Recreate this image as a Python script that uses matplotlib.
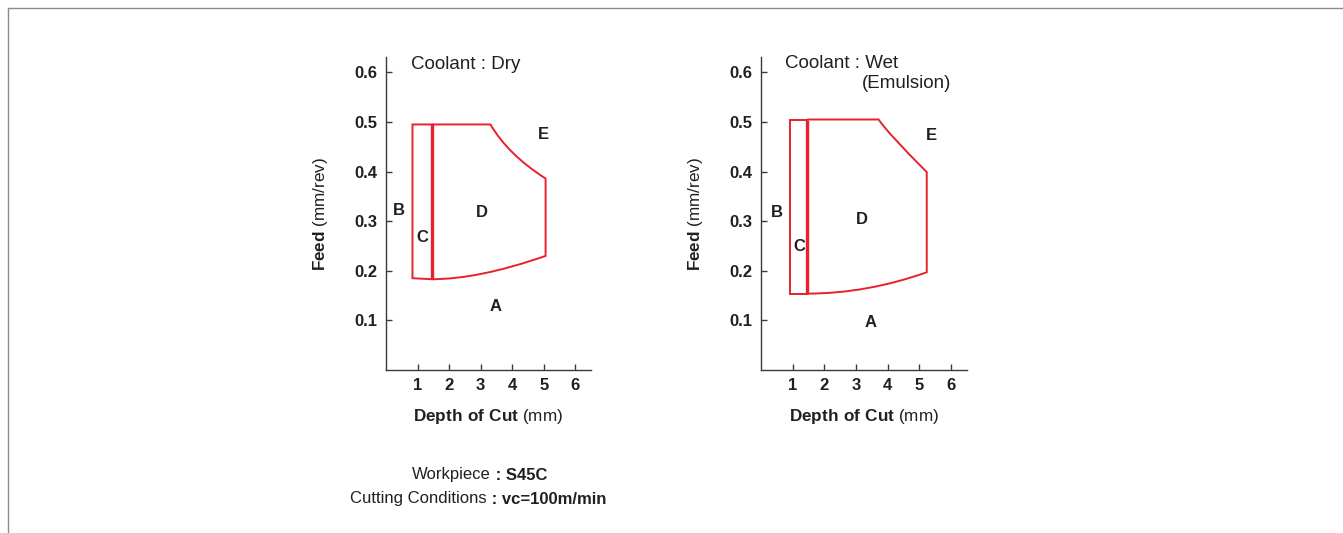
import matplotlib
matplotlib.use("Agg")
import matplotlib.pyplot as plt
from matplotlib.lines import Line2D
from matplotlib.path import Path
from matplotlib.patches import PathPatch

plt.rcParams['font.family'] = ['Liberation Sans', 'DejaVu Sans']
plt.rcParams['mathtext.fontset'] = 'custom'
plt.rcParams['mathtext.rm'] = 'Liberation Sans'
plt.rcParams['mathtext.bf'] = 'Liberation Sans:bold'
plt.rcParams['xtick.direction'] = 'in'
plt.rcParams['ytick.direction'] = 'in'

TXT = '#231f20'
RED = '#e8212b'

x_ticks = [1, 2, 3, 4, 5, 6]
y_ticks = [0.1, 0.2, 0.3, 0.4, 0.5, 0.6]

# ---- Dry ----
dry_title = "Coolant : Dry"
dry_x_left = 0.84
dry_x_div = 1.46
dry_top = 0.495
dry_bot_left = 0.185
dry_bot_div = 0.183
dry_top_end = (3.31, 0.495)
dry_upper_ctrl = (3.875, 0.434)
dry_corner_top = (5.06, 0.386)
dry_corner_bot = (5.06, 0.230)
dry_lower_ctrl = (2.94, 0.183)
dry_labels = ['A', 'B', 'C', 'D', 'E']
dry_label_x = [3.48, 0.42, 1.15, 3.03, 4.98]
dry_label_y = [0.128, 0.322, 0.268, 0.318, 0.475]

# ---- Wet ----
wet_title = "Coolant : Wet"
wet_subtitle = "(Emulsion)"
wet_x_left = 0.90
wet_x_div = 1.46
wet_top = 0.505
wet_bot_left = 0.154
wet_bot_div = 0.154
wet_top_end = (3.71, 0.505)
wet_upper_ctrl = (4.02, 0.476)
wet_corner_top = (5.23, 0.399)
wet_corner_bot = (5.23, 0.197)
wet_lower_ctrl = (3.33, 0.154)
wet_labels = ['A', 'B', 'C', 'D', 'E']
wet_label_x = [3.45, 0.51, 1.21, 3.17, 5.37]
wet_label_y = [0.096, 0.318, 0.249, 0.304, 0.472]

fig = plt.figure(figsize=(13.43, 5.33), dpi=100)
fig.patch.set_facecolor('white')

# frame lines
fig.add_artist(Line2D([8/1343, 1.0], [1-8/533, 1-8/533], transform=fig.transFigure,
                      color='#8c8c8c', lw=1.0))
fig.add_artist(Line2D([8/1343, 8/1343], [0, 1-8/533], transform=fig.transFigure,
                      color='#8c8c8c', lw=1.0))

ax1 = fig.add_axes([386/1343, 163/533, 205/1343, 313/533])
ax2 = fig.add_axes([761/1343, 163/533, 206/1343, 313/533])


def style(ax):
    ax.set_xlim(0, 6.5)
    ax.set_ylim(0, 0.631)
    for s in ['top', 'right']:
        ax.spines[s].set_visible(False)
    for s in ['left', 'bottom']:
        ax.spines[s].set_color('#3a3a3a')
        ax.spines[s].set_linewidth(1.0)
    ax.set_xticks(x_ticks)
    ax.set_xticklabels([str(v) for v in x_ticks])
    ax.set_yticks(y_ticks)
    ax.set_yticklabels([f"{v:.1f}" for v in y_ticks])
    ax.tick_params(direction='in', length=4, width=1.0, color='#3a3a3a',
                   labelsize=12, labelcolor=TXT)
    ax.tick_params(axis='y', pad=6.5)
    ax.tick_params(axis='x', pad=5.5)
    for lab in ax.get_xticklabels() + ax.get_yticklabels():
        lab.set_fontweight('bold')
    ax.set_xlabel(r"$\mathbf{Depth\ of\ Cut}$ (mm)", fontsize=12.3, color=TXT)
    ax.set_ylabel(r"$\mathbf{Feed}$ (mm/rev)", fontsize=12.3, color=TXT)
    ax.xaxis.set_label_coords(0.5, -0.118)
    ax.yaxis.set_label_coords(-0.274, 0.5)
    ax.patch.set_alpha(0)


def draw(ax, xl, xd, top, bl, bd, tend, uctrl, ctop, cbot, lctrl):
    # B/C rectangle part
    ax.plot([xd, xl, xl, xd], [top, top, bl, bd], color=RED, lw=1.4,
            solid_joinstyle='miter')
    # D region outline with curved boundaries
    verts = [(xd, top), tend, uctrl, ctop, cbot, lctrl, (xd, bd)]
    codes = [Path.MOVETO, Path.LINETO, Path.CURVE3, Path.CURVE3,
             Path.LINETO, Path.CURVE3, Path.CURVE3]
    ax.add_patch(PathPatch(Path(verts, codes), fill=False, edgecolor=RED,
                           lw=1.4, joinstyle='miter'))
    # divider
    ax.plot([xd, xd], [bd, top], color=RED, lw=2.4, solid_capstyle='butt')


style(ax1)
style(ax2)

draw(ax1, dry_x_left, dry_x_div, dry_top, dry_bot_left, dry_bot_div,
     dry_top_end, dry_upper_ctrl, dry_corner_top, dry_corner_bot, dry_lower_ctrl)
draw(ax2, wet_x_left, wet_x_div, wet_top, wet_bot_left, wet_bot_div,
     wet_top_end, wet_upper_ctrl, wet_corner_top, wet_corner_bot, wet_lower_ctrl)

for lab, x, y in zip(dry_labels, dry_label_x, dry_label_y):
    ax1.text(x, y, lab, ha='center', va='center', fontsize=12, fontweight='bold', color=TXT)
for lab, x, y in zip(wet_labels, wet_label_x, wet_label_y):
    ax2.text(x, y, lab, ha='center', va='center', fontsize=12, fontweight='bold', color=TXT)

ax1.text(0.79, 0.615, dry_title, ha='left', va='center', fontsize=13.5, color=TXT, clip_on=False)
ax2.text(0.77, 0.617, wet_title, ha='left', va='center', fontsize=13.5, color=TXT, clip_on=False)
ax2.text(3.19, 0.578, wet_subtitle, ha='left', va='center', fontsize=13.5, color=TXT, clip_on=False)

# bottom notes
y1 = 1 - 475/533
y2 = 1 - 499/533
fig.text(491/1343, y1, "Workpiece", ha='right', va='center', fontsize=12, color=TXT)
fig.text(491/1343, y1, " : S45C", ha='left', va='center', fontsize=12, color=TXT, fontweight='bold')
fig.text(487/1343, y2, "Cutting Conditions", ha='right', va='center', fontsize=12, color=TXT)
fig.text(487/1343, y2, " : vc=100m/min", ha='left', va='center', fontsize=12, color=TXT, fontweight='bold')

fig.savefig("out.png", dpi=100)
